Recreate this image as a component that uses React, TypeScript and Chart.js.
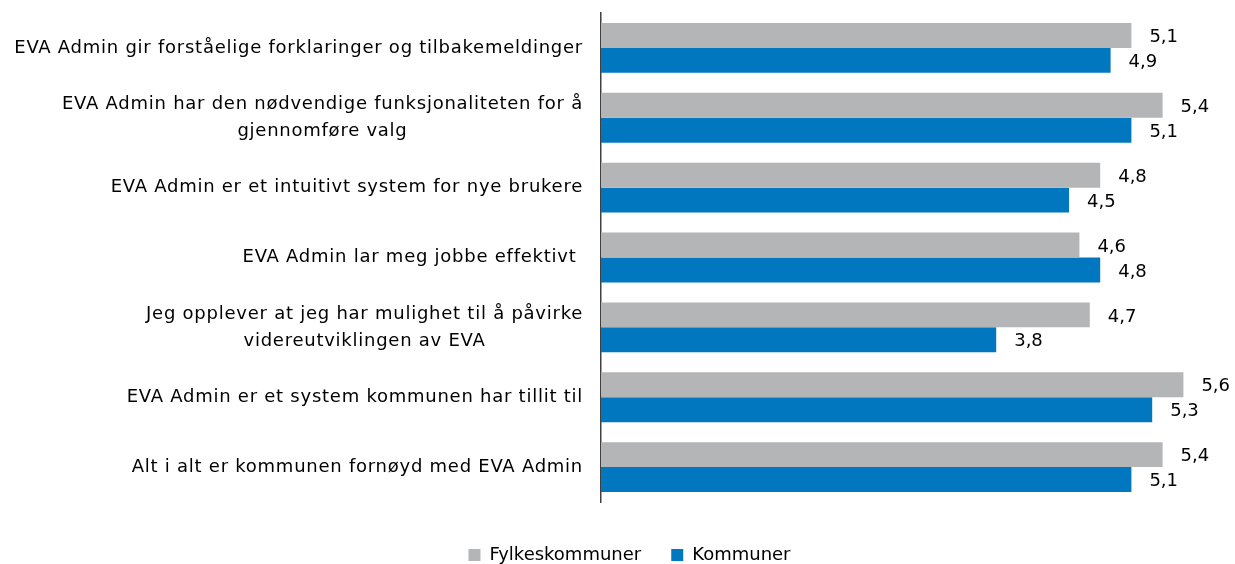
import React, { useEffect, useRef } from "react";
import { Chart, registerables } from "chart.js";

Chart.register(...registerables);

const categories: string[][] = [
  ["EVA Admin gir forståelige forklaringer og tilbakemeldinger"],
  ["EVA Admin har den nødvendige funksjonaliteten for å", "gjennomføre valg"],
  ["EVA Admin er et intuitivt system for nye brukere"],
  ["EVA Admin lar meg jobbe effektivt "],
  ["Jeg opplever at jeg har mulighet til å påvirke", "videreutviklingen av EVA"],
  ["EVA Admin er et system kommunen har tillit til"],
  ["Alt i alt er kommunen fornøyd med EVA Admin"],
];
const fylkeskommuner = [5.1, 5.4, 4.8, 4.6, 4.7, 5.6, 5.4];
const kommuner = [4.9, 5.1, 4.5, 4.8, 3.8, 5.3, 5.1];
const seriesNames = ["Fylkeskommuner", "Kommuner"];

const FONT = "'DejaVu Sans', sans-serif";
const GREY = "#B4B5B7";
const BLUE = "#0077BF";

const fmt = (v: number) => v.toFixed(1).replace(".", ",");

const labelsPlugin = {
  id: "customLabels",
  afterDraw(chart: any) {
    const ctx = chart.ctx;
    const yScale = chart.scales.y;
    ctx.save();
    ctx.fillStyle = "#000";
    ctx.textBaseline = "middle";
    // category labels
    ctx.font = `18px ${FONT}`;
    (ctx as any).letterSpacing = "0.75px";
    const right = chart.chartArea.left - 18;
    categories.forEach((lines, i) => {
      const yc = yScale.getPixelForValue(i);
      const widths = lines.map((l) => ctx.measureText(l).width);
      const maxW = Math.max(...widths);
      const cx = right - maxW / 2;
      const lh = 27;
      lines.forEach((l, j) => {
        ctx.textAlign = "center";
        ctx.fillText(l, cx, yc + (j - (lines.length - 1) / 2) * lh);
      });
    });
    // value labels
    (ctx as any).letterSpacing = "0px";
    ctx.font = `18px ${FONT}`;
    ctx.textAlign = "left";
    chart.data.datasets.forEach((ds: any, di: number) => {
      const meta = chart.getDatasetMeta(di);
      meta.data.forEach((bar: any, i: number) => {
        ctx.fillText(fmt(ds.data[i]), bar.x + 18, bar.y + 2);
      });
    });
    ctx.restore();
  },
};

export default function App() {
  const ref = useRef<HTMLCanvasElement>(null);
  useEffect(() => {
    document.body.style.margin = "0";
    const chart = new Chart(ref.current!, {
      type: "bar",
      data: {
        labels: categories.map((c) => c.join(" ")),
        datasets: [
          {
            label: seriesNames[0],
            data: fylkeskommuner,
            backgroundColor: GREY,
            categoryPercentage: 0.714,
            barPercentage: 1,
          },
          {
            label: seriesNames[1],
            data: kommuner,
            backgroundColor: BLUE,
            categoryPercentage: 0.714,
            barPercentage: 1,
          },
        ],
      },
      options: {
        indexAxis: "y",
        animation: false,
        responsive: false,
        maintainAspectRatio: false,
        layout: { padding: { top: 13, right: 10, bottom: -10, left: 34 } },
        plugins: {
          tooltip: { enabled: false },
          legend: {
            position: "bottom",
            labels: {
              boxWidth: 12,
              boxHeight: 12,
              padding: 30,
              color: "#000",
              font: { family: FONT, size: 18 },
            },
          },
        },
        scales: {
          x: {
            min: 0,
            max: 6,
            display: true,
            grid: { display: false },
            border: { display: false },
            ticks: { display: false },
            afterFit: (s: any) => {
              s.height = 14;
            },
          },
          y: {
            grid: { display: false },
            border: { display: true, color: "#404040", width: 1.5 },
            ticks: { display: false },
            afterFit: (s: any) => {
              s.width = 567;
            },
          },
        },
      },
      plugins: [labelsPlugin],
    } as any);
    return () => chart.destroy();
  }, []);
  return (
    <div style={{ width: 1235, height: 564 }}>
      <canvas ref={ref} width={1235} height={564} />
    </div>
  );
}
